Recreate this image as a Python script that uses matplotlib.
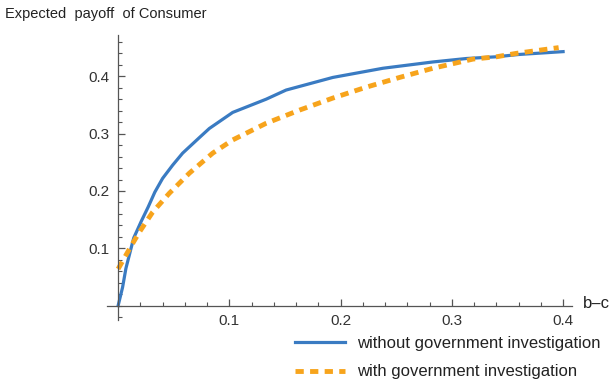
import matplotlib
matplotlib.use("Agg")
import matplotlib.pyplot as plt
from matplotlib.ticker import MultipleLocator

plt.rcParams['font.family'] = ['Liberation Sans', 'DejaVu Sans']

# curve
x_without = [0, 0.004, 0.007, 0.014, 0.021, 0.027, 0.033, 0.040, 0.049, 0.058, 0.073, 0.082,
             0.103, 0.133, 0.151, 0.193, 0.238, 0.283, 0.313, 0.34, 0.36, 0.40]
y_without = [0, 0.032, 0.065, 0.118, 0.148, 0.172, 0.198, 0.222, 0.245, 0.266, 0.293, 0.309,
             0.337, 0.36, 0.376, 0.398, 0.414, 0.425, 0.431, 0.434, 0.438, 0.443]

x_with = [0, 0.007, 0.012, 0.019, 0.031, 0.046, 0.064, 0.085, 0.103, 0.133, 0.163, 0.193,
          0.223, 0.253, 0.283, 0.319, 0.34, 0.358, 0.396]
y_with = [0.064, 0.088, 0.105, 0.128, 0.163, 0.196, 0.231, 0.266, 0.289, 0.318, 0.341, 0.362,
          0.381, 0.398, 0.414, 0.430, 0.434, 0.440, 0.450]

labels = ["without government investigation", "with government investigation"]
blue = "#3a7bc2"
orange = "#f7a41c"

fig = plt.figure(figsize=(6.12, 3.88), dpi=100)
ax = fig.add_axes([107/612, 1 - 320/388, 465/612, 285/388])

ax.plot(x_without, y_without, color=blue, lw=2.3, label=labels[0])
ax.plot(x_with, y_with, color=orange, lw=3.5, dashes=(1.7, 1.3), label=labels[1])

ax.set_xlim(-0.010, 0.408)
ax.set_ylim(-0.025, 0.472)

for s in ['top', 'right']:
    ax.spines[s].set_visible(False)
ax.spines['left'].set_position(('data', 0))
ax.spines['bottom'].set_position(('data', 0))
for s in ['left', 'bottom']:
    ax.spines[s].set_color('#555555')
    ax.spines[s].set_linewidth(0.9)

ax.xaxis.set_minor_locator(MultipleLocator(0.02))
ax.yaxis.set_minor_locator(MultipleLocator(0.02))
ax.set_xticks([0.1, 0.2, 0.3, 0.4])
ax.set_xticklabels(["0.1", "0.2", "0.3", "0.4"])
ax.set_yticks([0.1, 0.2, 0.3, 0.4])
ax.set_yticklabels(["0.1", "0.2", "0.3", "0.4"])
ax.tick_params(which='major', direction='in', length=5, width=0.9, color='#555555',
               labelsize=11, labelcolor='#333333', pad=6)
ax.tick_params(which='minor', direction='in', length=3, width=0.8, color='#555555')

fig.text(5/612, 1 - 14/388, "Expected  payoff  of Consumer", fontsize=10.5, color='#222222',
         ha='left', va='center')
fig.text(583/612, 1 - 303/388, "b\u2013c", fontsize=12, color='#222222', ha='left', va='center')

fig.legend(loc='upper left', bbox_to_anchor=(295/612, 1 - 336/388), frameon=False,
           fontsize=12, handlelength=3.0, handletextpad=0.75, labelspacing=0.8,
           labelcolor='#222222', borderaxespad=0, borderpad=0)

fig.savefig("out.png", dpi=100)
